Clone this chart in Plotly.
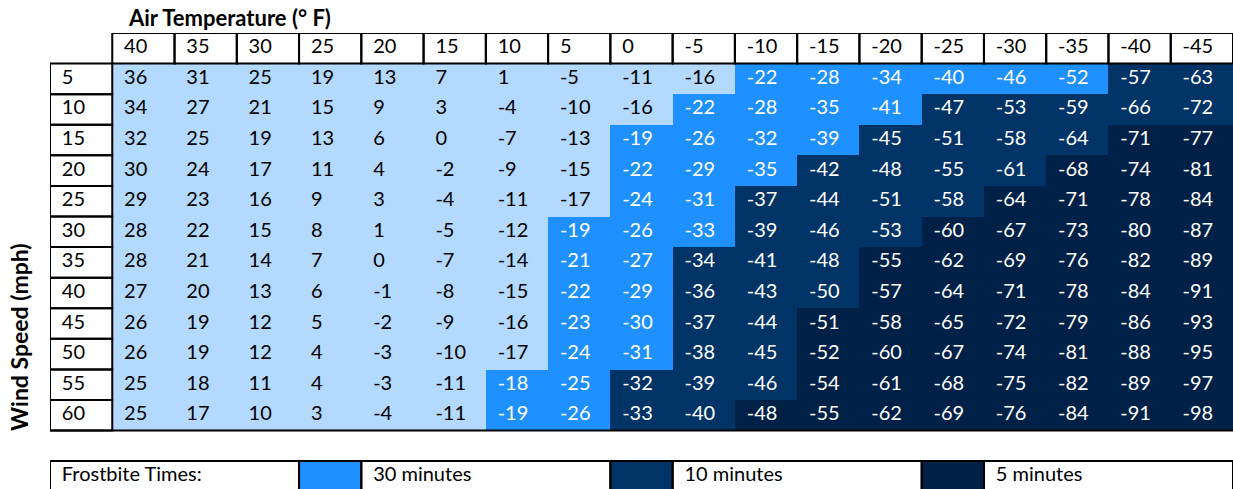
import plotly.graph_objects as go
import numpy as np

# ---- data ----
air_temps = [40, 35, 30, 25, 20, 15, 10, 5, 0, -5, -10, -15, -20, -25, -30, -35, -40, -45]
wind_speeds = [5, 10, 15, 20, 25, 30, 35, 40, 45, 50, 55, 60]

wind_chill = [
    [36, 31, 25, 19, 13, 7, 1, -5, -11, -16, -22, -28, -34, -40, -46, -52, -57, -63],
    [34, 27, 21, 15, 9, 3, -4, -10, -16, -22, -28, -35, -41, -47, -53, -59, -66, -72],
    [32, 25, 19, 13, 6, 0, -7, -13, -19, -26, -32, -39, -45, -51, -58, -64, -71, -77],
    [30, 24, 17, 11, 4, -2, -9, -15, -22, -29, -35, -42, -48, -55, -61, -68, -74, -81],
    [29, 23, 16, 9, 3, -4, -11, -17, -24, -31, -37, -44, -51, -58, -64, -71, -78, -84],
    [28, 22, 15, 8, 1, -5, -12, -19, -26, -33, -39, -46, -53, -60, -67, -73, -80, -87],
    [28, 21, 14, 7, 0, -7, -14, -21, -27, -34, -41, -48, -55, -62, -69, -76, -82, -89],
    [27, 20, 13, 6, -1, -8, -15, -22, -29, -36, -43, -50, -57, -64, -71, -78, -84, -91],
    [26, 19, 12, 5, -2, -9, -16, -23, -30, -37, -44, -51, -58, -65, -72, -79, -86, -93],
    [26, 19, 12, 4, -3, -10, -17, -24, -31, -38, -45, -52, -60, -67, -74, -81, -88, -95],
    [25, 18, 11, 4, -3, -11, -18, -25, -32, -39, -46, -54, -61, -68, -75, -82, -89, -97],
    [25, 17, 10, 3, -4, -11, -19, -26, -33, -40, -48, -55, -62, -69, -76, -84, -91, -98],
]

# frostbite category per cell: 0 = none, 1 = 30 minutes, 2 = 10 minutes, 3 = 5 minutes
frostbite = [
    [0, 0, 0, 0, 0, 0, 0, 0, 0, 0, 1, 1, 1, 1, 1, 1, 2, 2],
    [0, 0, 0, 0, 0, 0, 0, 0, 0, 1, 1, 1, 1, 2, 2, 2, 2, 2],
    [0, 0, 0, 0, 0, 0, 0, 0, 1, 1, 1, 1, 2, 2, 2, 2, 3, 3],
    [0, 0, 0, 0, 0, 0, 0, 0, 1, 1, 1, 2, 2, 2, 2, 3, 3, 3],
    [0, 0, 0, 0, 0, 0, 0, 0, 1, 1, 2, 2, 2, 2, 3, 3, 3, 3],
    [0, 0, 0, 0, 0, 0, 0, 1, 1, 1, 2, 2, 2, 3, 3, 3, 3, 3],
    [0, 0, 0, 0, 0, 0, 0, 1, 1, 2, 2, 2, 3, 3, 3, 3, 3, 3],
    [0, 0, 0, 0, 0, 0, 0, 1, 1, 2, 2, 2, 3, 3, 3, 3, 3, 3],
    [0, 0, 0, 0, 0, 0, 0, 1, 1, 2, 2, 3, 3, 3, 3, 3, 3, 3],
    [0, 0, 0, 0, 0, 0, 0, 1, 1, 2, 2, 3, 3, 3, 3, 3, 3, 3],
    [0, 0, 0, 0, 0, 0, 1, 1, 2, 2, 2, 3, 3, 3, 3, 3, 3, 3],
    [0, 0, 0, 0, 0, 0, 1, 1, 2, 2, 3, 3, 3, 3, 3, 3, 3, 3],
]

legend_title = "Frostbite Times:"
legend_labels = ["30 minutes", "10 minutes", "5 minutes"]
legend_codes = [1, 2, 3]

category_colors = ["#B3D9FF", "#1E90FF", "#003366", "#002147"]
text_colors = ["#000000", "#FFFFFF", "#FFFFFF", "#FFFFFF"]

FONT = "Lato, Carlito, Calibri, sans-serif"
FS = 20

n_cols = len(air_temps)
n_rows = len(wind_speeds)

# grid: columns -1 (row labels) .. n_cols-1 ; rows -1 (header) .. n_rows+1 (legend)
gx = list(range(-1, n_cols))
legend_row = n_rows + 1
gy = list(range(-1, legend_row + 1))
Z = np.full((len(gy), len(gx)), np.nan)
for r in range(n_rows):
    for c in range(n_cols):
        Z[r + 1, c + 1] = frostbite[r][c]

# legend layout: title spans 4 columns, each swatch 1 column, each label 4 columns
legend_spans = []  # (start_col, end_col, text or None, code)
col = -1
legend_spans.append((col, col + 3, legend_title, None))
col += 4
for lab, code in zip(legend_labels, legend_codes):
    legend_spans.append((col, col, None, code))
    Z[legend_row + 1, col + 1] = code
    col += 1
    legend_spans.append((col, col + 3, lab, None))
    col += 4

colorscale = []
for i, cc in enumerate(category_colors):
    colorscale.append([i / 4, cc])
    colorscale.append([(i + 1) / 4, cc])

fig = go.Figure()
fig.add_trace(go.Heatmap(
    z=Z, x=gx, y=gy, colorscale=colorscale, zmin=-0.5, zmax=3.5,
    showscale=False, hoverinfo="skip",
))

# ---- texts ----
PAD = 0.19
tx, ty, tt, tc = [], [], [], []
for c, t in enumerate(air_temps):
    tx.append(c - 0.5 + PAD); ty.append(-1); tt.append(str(t)); tc.append("#000000")
for r, w in enumerate(wind_speeds):
    tx.append(-1 - 0.5 + PAD); ty.append(r); tt.append(str(w)); tc.append("#000000")
    for c in range(n_cols):
        tx.append(c - 0.5 + PAD); ty.append(r); tt.append(str(wind_chill[r][c]))
        tc.append(text_colors[frostbite[r][c]])
for s, e, txt, code in legend_spans:
    if txt:
        tx.append(s - 0.5 + PAD); ty.append(legend_row); tt.append(txt); tc.append("#000000")

fig.add_trace(go.Scatter(
    x=tx, y=ty, text=tt, mode="text", textposition="middle right",
    textfont=dict(family=FONT, size=FS, color=tc), hoverinfo="skip",
    cliponaxis=False,
))

# ---- borders ----
shapes = []
LW = 2
def rect(x0, x1, y0, y1):
    shapes.append(dict(type="rect", xref="x", yref="y", x0=x0, x1=x1, y0=y0, y1=y1,
                       line=dict(color="black", width=LW), fillcolor="rgba(0,0,0,0)"))
for c in range(n_cols):
    rect(c - 0.5, c + 0.5, -1.5, -0.5)
for r in range(n_rows):
    rect(-1.5, -0.5, r - 0.5, r + 0.5)
shapes.append(dict(type="line", xref="x", yref="y", x0=-1.5, x1=n_cols - 0.5,
                   y0=n_rows - 0.5, y1=n_rows - 0.5, line=dict(color="black", width=LW)))
for s, e, txt, code in legend_spans:
    rect(s - 0.5, e + 0.5, legend_row - 0.5, legend_row + 0.5)

# ---- layout (page body margin removed by post_script) ----
W, H = 1233, 489
ML, MT = 50, 33
row_px = 30.58
plot_h = H - MT
y_bottom = -1.5 + plot_h / row_px

def px_x(p):
    return (p - ML) / (W - ML)

def px_y(p):
    return 1 - (p - MT) / plot_h

fig.update_layout(
    width=W, height=H,
    margin=dict(l=ML, r=0, t=MT, b=0, pad=0),
    plot_bgcolor="white", paper_bgcolor="white",
    showlegend=False,
    shapes=shapes,
    xaxis=dict(range=[-1.5, n_cols - 0.5], visible=False, fixedrange=True),
    yaxis=dict(range=[y_bottom, -1.5], visible=False, fixedrange=True),
    font=dict(family=FONT, size=FS, color="black"),
    annotations=[
        dict(text="<b>Air Temperature (° F)</b>", xref="paper", yref="paper",
             x=px_x(126), y=px_y(18),
             xanchor="left", yanchor="middle", showarrow=False,
             font=dict(family=FONT, size=22, color="black")),
        dict(text="<b>Wind Speed (mph)</b>", xref="paper", yref="paper",
             x=px_x(19), y=px_y(337),
             xanchor="center", yanchor="middle", textangle=-90, showarrow=False,
             font=dict(family=FONT, size=23, color="black")),
    ],
)

fig.write_html(
    "out.html",
    config=dict(displayModeBar=False),
    post_script="document.body.style.margin='0';document.body.style.overflow='hidden';",
)
